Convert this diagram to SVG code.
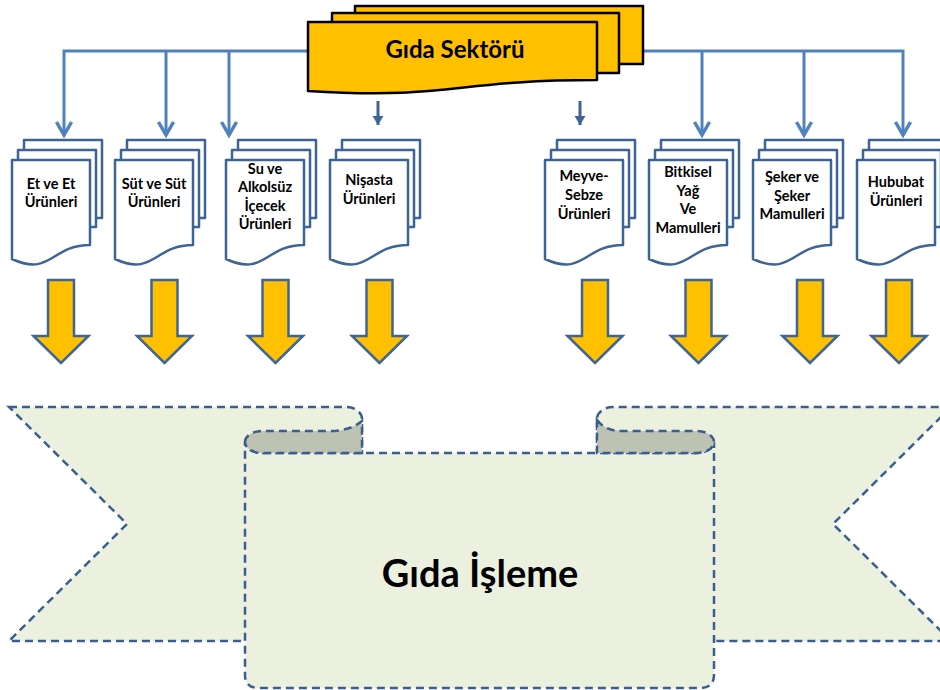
<svg xmlns="http://www.w3.org/2000/svg" xmlns:xlink="http://www.w3.org/1999/xlink" width="940" height="690" viewBox="0 0 940 690">
<style>
.lbl{font-family:Lato,"Liberation Sans",sans-serif;font-weight:bold;font-size:14.5px;fill:#000;text-anchor:middle}
.page{fill:#fff;stroke:#3C6496;stroke-width:2.5;stroke-linejoin:round}
.conn{fill:none;stroke:#4F81BD;stroke-width:3}
.short{fill:none;stroke:#3F6596;stroke-width:3}
.card{fill:#FFC000;stroke:#000;stroke-width:2.5;stroke-linejoin:round}
.block{fill:#FFC000;stroke:#3F6596;stroke-width:2.5;stroke-linejoin:miter}
.rib{fill:#EBF0DF;stroke:#3A5F8F;stroke-width:2.5;stroke-dasharray:8 5}
.curl{fill:#BEC2B2;stroke:#3A5F8F;stroke-width:2.5;stroke-dasharray:8 5}
</style>
<defs>
<marker id="openArrow" markerUnits="userSpaceOnUse" orient="auto" refX="0" refY="0" markerWidth="20" markerHeight="20" viewBox="-16 -10 20 20" overflow="visible">
<path d="M-13,-7.5 L0,0 L-13,7.5" fill="none" stroke="#4F81BD" stroke-width="3.5" stroke-linejoin="miter"/>
</marker>
<marker id="solidArrow" markerUnits="userSpaceOnUse" orient="auto" refX="0" refY="0" markerWidth="12" markerHeight="12" viewBox="-10 -6 12 12" overflow="visible">
<path d="M-9,-5.5 L0,0 L-9,5.5 Z" fill="#3F6596"/>
</marker>
<g id="stack">
<rect class="page" x="12" y="-20" width="78" height="78"/>
<rect class="page" x="6" y="-10" width="78" height="77"/>
<path class="page" d="M0,0 H78 V85 C39,85 39,117 0,99 Z"/>
</g>
<path id="blockArrow" class="block" d="M-13,0 H13 V56 H27.5 L0,83 L-27.5,56 H-13 Z"/>
</defs>

<g id="connectors">
<path class="conn" d="M308,51 H64 V135" marker-end="url(#openArrow)"/>
<path class="conn" d="M166,51 V135" marker-end="url(#openArrow)"/>
<path class="conn" d="M229,51 V135" marker-end="url(#openArrow)"/>
<path class="conn" d="M643,51 H903 V135" marker-end="url(#openArrow)"/>
<path class="conn" d="M702,51 V135" marker-end="url(#openArrow)"/>
<path class="conn" d="M804,51 V135" marker-end="url(#openArrow)"/>
<path class="short" d="M378,101 V125" marker-end="url(#solidArrow)"/>
<path class="short" d="M580,101 V125" marker-end="url(#solidArrow)"/>
</g>

<g id="gida-sektoru">
<rect class="card" x="355" y="6" width="288" height="58"/>
<rect class="card" x="332" y="13" width="287" height="60"/>
<path class="card" d="M308,22 H597 V80 C452,80 452,100 308,91 Z"/>
<text x="455" y="58" style="font-family:Lato,'Liberation Sans',sans-serif;font-weight:bold;font-size:24px;text-anchor:middle">Gıda Sektörü</text>
</g>

<g id="et-urunleri">
<use xlink:href="#stack" transform="translate(12,160)"/>
<text class="lbl"><tspan x="51" y="189">Et ve Et</tspan><tspan x="51" y="207">Ürünleri</tspan></text>
</g>
<g id="sut-urunleri">
<use xlink:href="#stack" transform="translate(115,160)"/>
<text class="lbl"><tspan x="154" y="189">Süt ve Süt</tspan><tspan x="154" y="207">Ürünleri</tspan></text>
</g>
<g id="su-icecek">
<use xlink:href="#stack" transform="translate(226,160)"/>
<text class="lbl"><tspan x="265" y="174">Su ve</tspan><tspan x="265" y="192">Alkolsüz</tspan><tspan x="265" y="211">İçecek</tspan><tspan x="265" y="229">Ürünleri</tspan></text>
</g>
<g id="nisasta">
<use xlink:href="#stack" transform="translate(330,160)"/>
<text class="lbl"><tspan x="369" y="185">Nişasta</tspan><tspan x="369" y="204">Ürünleri</tspan></text>
</g>
<g id="meyve-sebze">
<use xlink:href="#stack" transform="translate(545,160)"/>
<text class="lbl"><tspan x="584" y="181">Meyve-</tspan><tspan x="584" y="200">Sebze</tspan><tspan x="584" y="219">Ürünleri</tspan></text>
</g>
<g id="bitkisel-yag">
<use xlink:href="#stack" transform="translate(649,160)"/>
<text class="lbl"><tspan x="688" y="177">Bitkisel</tspan><tspan x="688" y="196">Yağ</tspan><tspan x="688" y="214">Ve</tspan><tspan x="688" y="233">Mamulleri</tspan></text>
</g>
<g id="seker">
<use xlink:href="#stack" transform="translate(753,160)"/>
<text class="lbl"><tspan x="792" y="182">Şeker ve</tspan><tspan x="792" y="201">Şeker</tspan><tspan x="792" y="219">Mamulleri</tspan></text>
</g>
<g id="hububat">
<use xlink:href="#stack" transform="translate(857,160)"/>
<text class="lbl"><tspan x="896" y="187">Hububat</tspan><tspan x="896" y="206">Ürünleri</tspan></text>
</g>

<g id="block-arrows">
<use xlink:href="#blockArrow" transform="translate(61,280)"/>
<use xlink:href="#blockArrow" transform="translate(164.5,280)"/>
<use xlink:href="#blockArrow" transform="translate(275.5,280)"/>
<use xlink:href="#blockArrow" transform="translate(379.5,280)"/>
<use xlink:href="#blockArrow" transform="translate(595,280)"/>
<use xlink:href="#blockArrow" transform="translate(698.5,280)"/>
<use xlink:href="#blockArrow" transform="translate(810,280)"/>
<use xlink:href="#blockArrow" transform="translate(899,280)"/>
</g>

<g id="gida-isleme">
<path class="rib" d="M9,407 H346 A16,12 0 0 1 362,419 V641 H9 L127,524 Z"/>
<path class="rib" d="M951,407 L833,524 L951,641 H597 V419 A16,12 0 0 1 613,407 Z"/>
<path class="rib" d="M262,453 H697 A17,11 0 0 0 714,442 V675 Q714,688 700,688 H259 Q245,688 245,675 V442 A17,11 0 0 0 262,453 Z"/>
<path class="curl" d="M245,442 A17,11 0 0 1 262,431 H330 Q350,431 362,421 V453 H262 A17,11 0 0 1 245,442 Z"/>
<path class="curl" d="M597,420 Q605,431 622,431 H697 A17,11 0 0 1 714,442 A17,11 0 0 1 697,453 H597 Z"/>
<text x="480" y="587" style="font-family:Lato,'Liberation Sans',sans-serif;font-weight:bold;font-size:38px;text-anchor:middle">Gıda İşleme</text>
</g>
</svg>
